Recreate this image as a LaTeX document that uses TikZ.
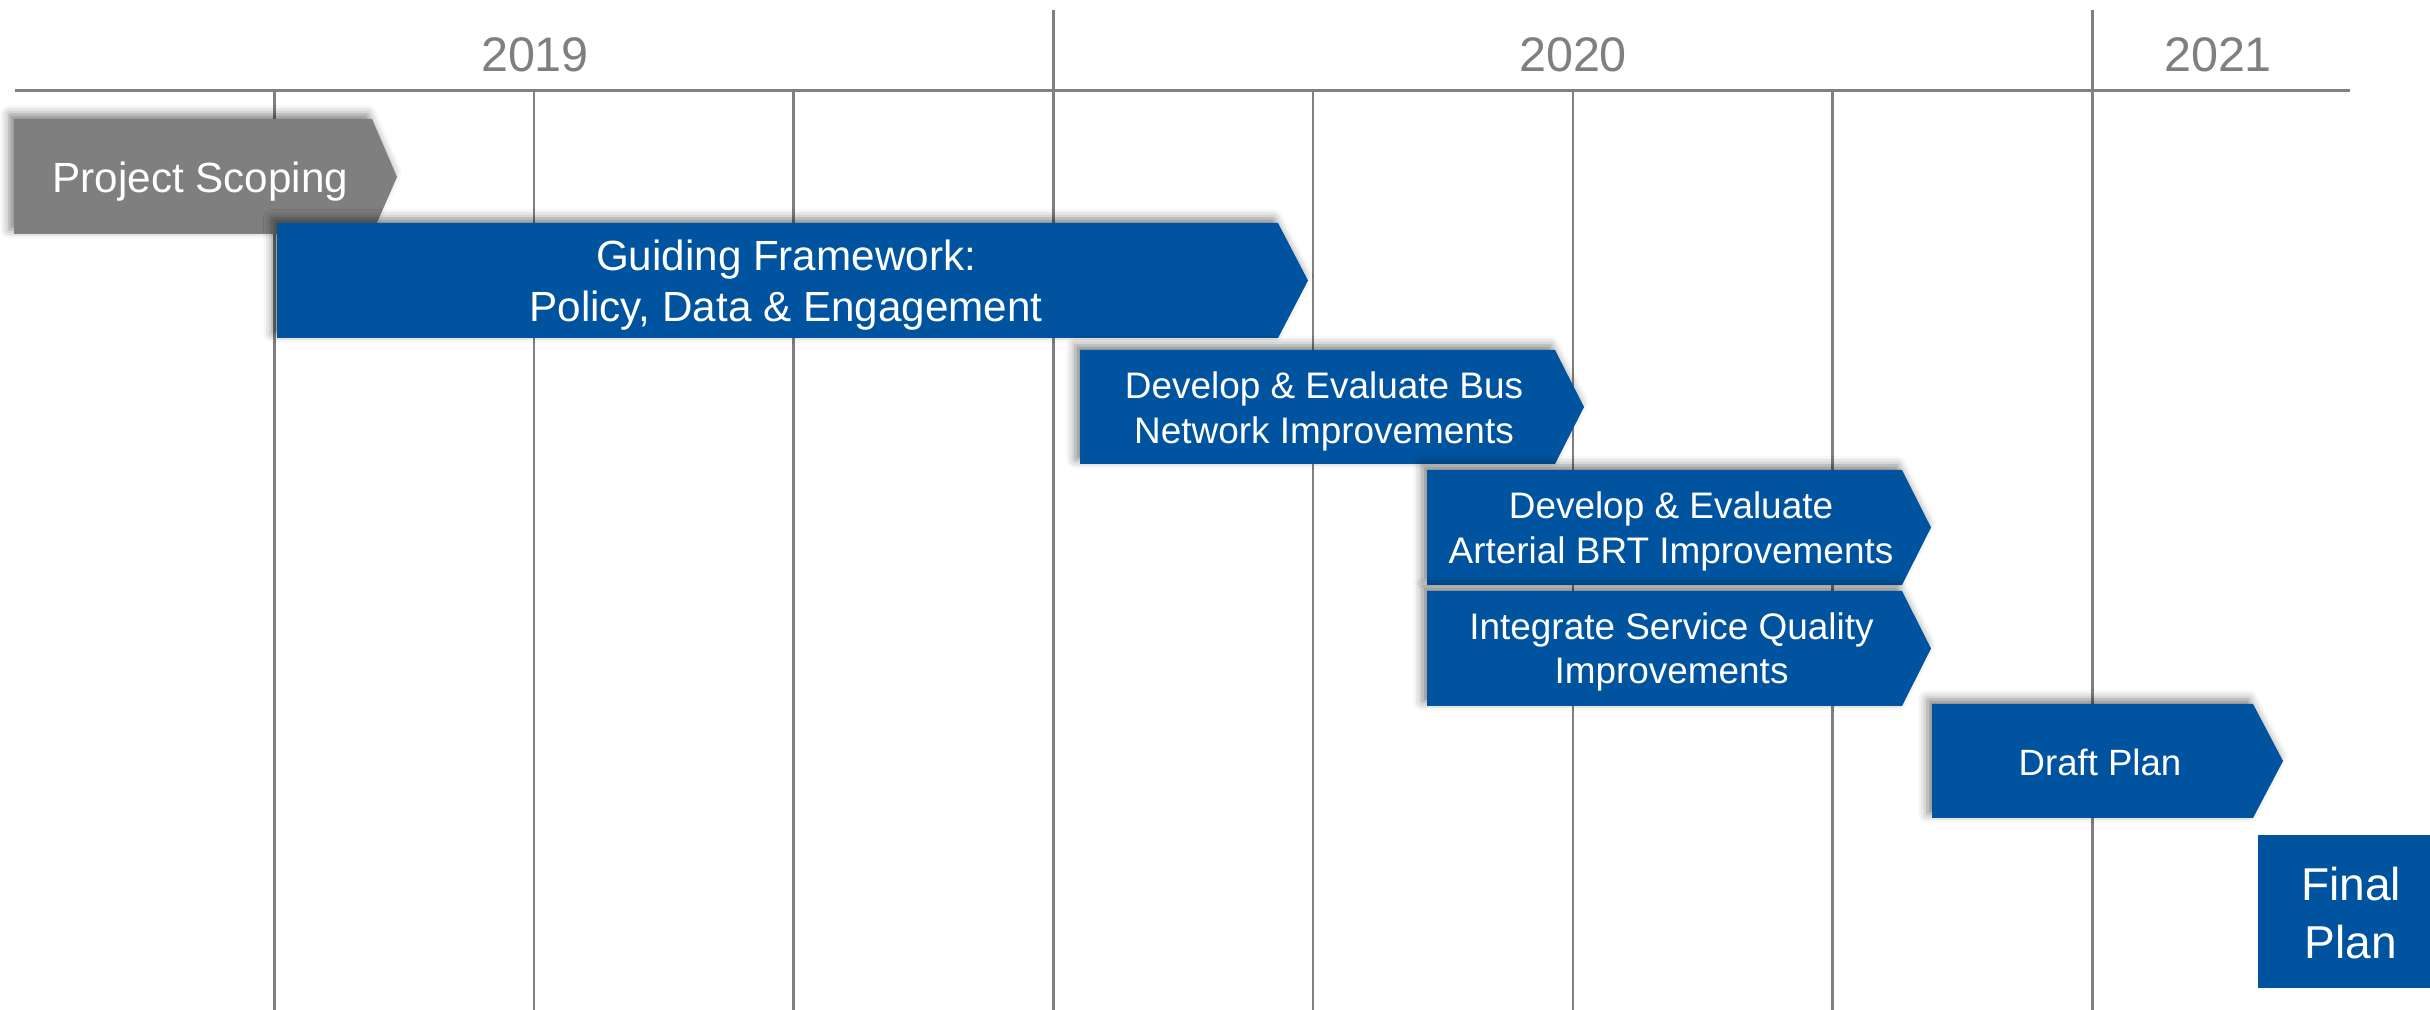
\documentclass[tikz,border=0pt]{standalone}
\usepackage{fontspec}
\setmainfont{Liberation Sans}
\usetikzlibrary{shadows.blur}
\definecolor{barblue}{RGB}{0,83,159}
\definecolor{bargray}{RGB}{127,127,127}
\definecolor{gridgray}{RGB}{128,128,128}
\definecolor{yeargray}{RGB}{127,127,127}
\begin{document}
\begin{tikzpicture}[x=0.01cm,y=-0.01cm,
  gridline/.style={draw=gridgray,line width=0.75pt},
  shad/.style={blur shadow={shadow xshift=-1.3pt,shadow yshift=1.3pt,shadow blur radius=2.6pt,shadow opacity=50}},
  chevblue/.style={fill=barblue,shad},
  chevgray/.style={fill=bargray,shad},
  yearlabel/.style={text=yeargray,font=\fontsize{13.8}{16}\selectfont,anchor=base,inner sep=0pt},
  lbl/.style={text=white,align=center,inner sep=0pt},
  bigl/.style={lbl,font=\fontsize{12}{14.5}\selectfont},
  midl/.style={lbl,font=\fontsize{10.5}{12.6}\selectfont},
]
\useasboundingbox (0,0) rectangle (2430,1010);
% grid
\foreach \k in {0,1,2,4,5,6} \draw[gridline] ({274.3+259.7*\k},90) -- ({274.3+259.7*\k},1010);
\foreach \k in {3,7} \draw[gridline] ({274.3+259.7*\k},10) -- ({274.3+259.7*\k},1010);
\draw[gridline] (15,90.5) -- (2350,90.5);
% years
\node[yearlabel] (y2019) at (535,71.5) {2019};
\node[yearlabel] (y2020) at (1573,71.5) {2020};
\node[yearlabel] (y2021) at (2218,71.5) {2021};
% Project scoping
\path[chevgray] (14,119) -- (372,119) -- (397,177) -- (372,234) -- (14,234) -- cycle;
\node[lbl,font=\fontsize{12}{14.5}\selectfont,anchor=base] (ps) at (200.5,192.7) {Project Scoping};
% Guiding framework
\path[chevblue] (277,223) -- (1278,223) -- (1308,280.5) -- (1278,338) -- (277,338) -- cycle;
\node[bigl] (gf) at (786,285.3) {Guiding Framework:\\Policy, Data \& Engagement};
% Bus
\path[chevblue] (1080,350) -- (1555,350) -- (1584,407) -- (1555,464) -- (1080,464) -- cycle;
\node[midl] (bus) at (1324,411.6) {Develop \& Evaluate Bus\\Network Improvements};
% BRT
\path[chevblue] (1427,470) -- (1902,470) -- (1931,527.5) -- (1902,585) -- (1427,585) -- cycle;
\node[midl] (brt) at (1671,531.6) {Develop \& Evaluate\\Arterial BRT Improvements};
% Service quality
\path[chevblue] (1427,591) -- (1902,591) -- (1931,648.5) -- (1902,706) -- (1427,706) -- cycle;
\node[midl] (isq) at (1671.5,651.7) {Integrate Service Quality\\Improvements};
% Draft plan
\path[chevblue] (1932,704) -- (2253,704) -- (2283,761) -- (2253,818) -- (1932,818) -- cycle;
\node[lbl,font=\fontsize{10.4}{12.5}\selectfont,anchor=base] (draft) at (2100,776) {Draft Plan};
% Final plan
\fill[barblue] (2258,835) rectangle (2430,988);
\node[lbl,font=\fontsize{13.1}{16.4}\selectfont] (final) at (2351,912.7) {Final\\Plan};
\end{tikzpicture}
\end{document}
